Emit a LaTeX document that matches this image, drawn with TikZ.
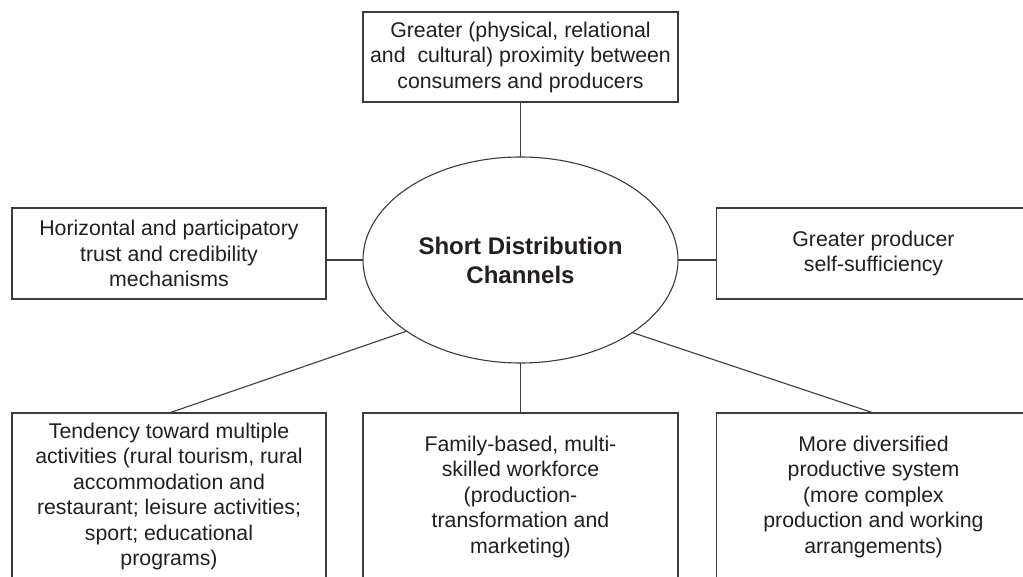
\documentclass[tikz,border=0pt]{standalone}
\usepackage{fontspec}
\setmainfont{Liberation Sans}
\usetikzlibrary{shapes.geometric}
\definecolor{linec}{HTML}{3C3C3C}
\definecolor{textc}{HTML}{231F20}
\tikzset{
  boxnode/.style={draw=linec, line width=1.2pt, rectangle, inner sep=0pt, outer sep=0pt,
    align=center, text=textc, font=\fontsize{21.3}{25.5}\selectfont},
  ellnode/.style={draw=linec, line width=1.1pt, ellipse, inner sep=0pt, outer sep=0pt,
    align=center, text=textc, font=\fontsize{24}{29}\selectfont\bfseries,
    minimum width=315pt, minimum height=206pt},
  conn/.style={draw=linec, line width=1.1pt}
}
\begin{document}
\begin{tikzpicture}[x=1pt,y=1pt]
\useasboundingbox (0,0) rectangle (1023,576);
\clip (0,0) rectangle (1023,576);
\fill[white] (0,0) rectangle (1023,576);
\node[ellnode] (ell) at (520.5,316) {Short Distribution\\Channels};
\node[boxnode, minimum width=315pt, minimum height=90pt] (top) at (520.5,519)
  {Greater (physical, relational\\and\ \ cultural) proximity between\\consumers and producers};
\node[boxnode, minimum width=314pt, minimum height=91pt] (left) at (169,322.5)
  {Horizontal and participatory\\trust and credibility\\mechanisms};
\node[boxnode, minimum width=314pt, minimum height=91pt] (right) at (873.5,322.5)
  {Greater producer\\self-sufficiency};
\node[boxnode, minimum width=314pt, minimum height=167pt] (bl) at (169,79.5)
  {Tendency toward multiple\\activities (rural tourism, rural\\accommodation and\\restaurant; leisure activities;\\sport; educational\\programs)};
\node[boxnode, minimum width=315pt, minimum height=167pt] (bm) at (520.5,79.5)
  {Family-based, multi-\\skilled workforce\\(production-\\transformation and\\marketing)};
\node[boxnode, minimum width=314pt, minimum height=167pt] (br) at (873.5,79.5)
  {More diversified\\productive system\\(more complex\\production and working\\arrangements)};
\draw[conn] (top.south) -- (ell.north);
\draw[conn] (ell.west) -- (ell.west -| left.east);
\draw[conn] (ell.east) -- (ell.east -| right.west);
\draw[conn] (ell.south) -- (bm.north);
\draw[conn] (ell.212.4) -- (bl.north);
\draw[conn] (ell.327.6) -- (br.north);
\end{tikzpicture}
\end{document}
